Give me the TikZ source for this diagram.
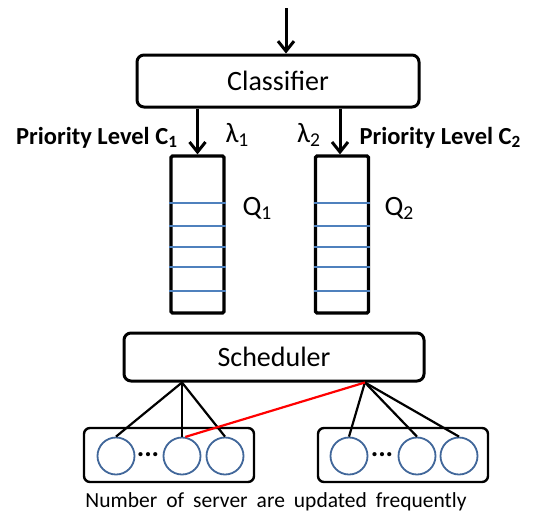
\documentclass[tikz,border=0pt]{standalone}
\usepackage{fontspec}
\setmainfont{Carlito}
\usetikzlibrary{arrows.meta,calc,positioning}
\definecolor{qblue}{HTML}{4F81BD}
\definecolor{sblue}{HTML}{41679A}

\begin{document}
\begin{tikzpicture}[x=1pt,y=-1pt,>={Straight Barb[length=10pt,width=16pt]},
  box/.style={draw,line width=3pt,rounded corners=7pt,inner sep=0pt},
  queue/.style={draw,line width=3.2pt,rounded corners=1.5pt,minimum width=53pt,minimum height=157pt,inner sep=0pt},
  srv/.style={circle,draw=sblue,line width=1.8pt,minimum size=37pt,inner sep=0pt},
  big/.style={font=\fontsize{28}{32}\selectfont},
  prio/.style={font=\fontsize{24.5}{28}\selectfont\bfseries}]
  \useasboundingbox (0,0) rectangle (536,512);
  % 分類器
  \node[box,big,minimum width=282pt,minimum height=52pt] (cls) at (278,81) {Classifier};
  \coordinate (in) at (286,8);
  \draw[->,line width=3pt] (in) -- (in |- cls.north);
  % 待ち行列
  \node[queue] (q1) at (197.5,234.5) {};
  \node[queue] (q2) at (342,234.5) {};
  \foreach \yy in {203,226,247,267,291} {
    \draw[qblue,line width=2pt] (q1.west |- 0,\yy) -- (q1.east |- 0,\yy);
    \draw[qblue,line width=2pt] (q2.west |- 0,\yy) -- (q2.east |- 0,\yy);
  }
  \draw[->,line width=3pt] (q1.north |- cls.south) -- (q1.north);
  \draw[->,line width=3pt] ([xshift=-2pt]q2.north |- cls.south) -- ([xshift=-2pt]q2.north);
  \node[prio,anchor=base east] (p1) at (181,144) {Priority Level C\textsubscript{1}};
  \node[prio,anchor=base west] (p2) at (356,144) {Priority Level C\textsubscript{2}};
  \node[big,anchor=base west] (lam1) at (222,142) {λ\textsubscript{1}};
  \node[big,anchor=base east] (lam2) at (324,142) {λ\textsubscript{2}};
  \node[big,anchor=base west] (ql1) at (239,215) {Q\textsubscript{1}};
  \node[big,anchor=base west] (ql2) at (381,215) {Q\textsubscript{2}};
  % スケジューラ
  \node[box,big,minimum width=300pt,minimum height=48pt] (sch) at (274,357) {Scheduler};
  % サーバ群
  \node[box,rounded corners=6pt,line width=2.4pt,minimum width=170pt,minimum height=54pt] (g1) at (169,455) {};
  \node[box,rounded corners=6pt,line width=2.4pt,minimum width=170pt,minimum height=54pt] (g2) at (403,455) {};
  \node[srv] (l1) at (116,456) {};
  \node[srv] (l2) at (182,456) {};
  \node[srv] (l3) at (225,456) {};
  \node[srv] (r1) at (349,456) {};
  \node[srv] (r2) at (417,456) {};
  \node[srv] (r3) at (459,456) {};
  \node[font=\fontsize{28}{30}\selectfont\bfseries] (d1) at (148,455) {...};
  \node[font=\fontsize{28}{30}\selectfont\bfseries] (d2) at (382,455) {...};
  % 接続
  \coordinate (fl) at (sch.south -| l2.north);
  \coordinate (fr) at ($(sch.south west)!0.8!(sch.south east)$);
  \foreach \s in {l1,l2,l3} \draw[line width=2.2pt] (fl) -- (\s.north);
  \foreach \s in {r1,r2,r3} \draw[line width=2.2pt] (fr) -- (\s.north);
  \draw[red,line width=2.2pt] (fr) -- (l2.80);
  % 説明
  \node[anchor=base,font=\fontsize{21.5}{24}\selectfont] (cap) at (276,507) {\spaceskip=9pt plus 1pt\relax Number of server are updated frequently};
\end{tikzpicture}
\end{document}
